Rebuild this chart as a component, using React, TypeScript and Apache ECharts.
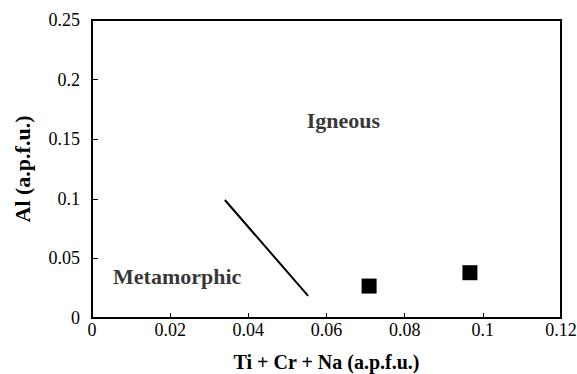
import React, { useEffect, useRef } from "react";
import * as echarts from "echarts";

// Discrimination boundary between the metamorphic and igneous fields
const boundaryX = [0.034, 0.0553];
const boundaryY = [0.099, 0.0185];

// Analysed samples (Ti + Cr + Na vs Al, a.p.f.u.)
const sampleX = [0.0709, 0.0967];
const sampleY = [0.0268, 0.038];

// Field names and where they sit in data space
const fieldNames = ["Igneous", "Metamorphic"];
const fieldX = [0.0643, 0.0218];
const fieldY = [0.166, 0.0344];

const xTicks = [0, 0.02, 0.04, 0.06, 0.08, 0.1, 0.12];
const yTicks = [0, 0.05, 0.1, 0.15, 0.2, 0.25];

const FONT = "Liberation Serif";

export default function App() {
  const ref = useRef<HTMLDivElement>(null);

  useEffect(() => {
    if (!ref.current) return;
    const chart = echarts.init(ref.current, undefined, { renderer: "svg" });
    const tickText = { color: "#000", fontFamily: FONT, fontSize: 18 };
    const nameText = { color: "#000", fontFamily: FONT, fontWeight: "bold" };
    chart.setOption({
      animation: false,
      backgroundColor: "#fff",
      grid: {
        left: 92,
        right: 16,
        top: 20,
        bottom: 56,
        containLabel: false,
        outerBoundsMode: "none",
        show: true,
        borderColor: "#000",
        borderWidth: 2,
      },
      xAxis: {
        type: "value",
        min: xTicks[0],
        max: xTicks[xTicks.length - 1],
        interval: 0.02,
        name: "Ti + Cr + Na (a.p.f.u.)",
        nameLocation: "middle",
        nameGap: 34,
        nameTextStyle: { ...nameText, fontSize: 20 },
        axisLine: { show: true, lineStyle: { color: "#000", width: 2 } },
        axisTick: { show: true, inside: true, length: 5, lineStyle: { color: "#000" } },
        axisLabel: {
          ...tickText,
          margin: 3,
          formatter: (v: number) => String(+v.toFixed(2)),
        },
        splitLine: { show: false },
      },
      yAxis: {
        type: "value",
        min: yTicks[0],
        max: yTicks[yTicks.length - 1],
        interval: 0.05,
        name: "Al (a.p.f.u.)",
        nameLocation: "middle",
        nameGap: 59,
        nameTextStyle: { ...nameText, fontSize: 22 },
        axisLine: { show: true, lineStyle: { color: "#000", width: 2 } },
        axisTick: { show: true, inside: true, length: 6, lineStyle: { color: "#000" } },
        axisLabel: {
          ...tickText,
          margin: 12,
          formatter: (v: number) => String(+v.toFixed(2)),
        },
        splitLine: { show: false },
      },
      series: [
        {
          type: "line",
          data: boundaryX.map((x, i) => [x, boundaryY[i]]),
          symbol: "none",
          lineStyle: { color: "#000", width: 2 },
          silent: true,
        },
        {
          type: "scatter",
          data: sampleX.map((x, i) => [x, sampleY[i]]),
          symbol: "rect",
          symbolSize: 15,
          itemStyle: { color: "#000", opacity: 1 },
        },
        {
          type: "scatter",
          data: fieldX.map((x, i) => ({ value: [x, fieldY[i]], name: fieldNames[i] })),
          symbolSize: 0,
          label: {
            show: true,
            position: "inside",
            formatter: (p: any) => p.name,
            ...nameText,
            fontSize: 22,
          },
          silent: true,
        },
      ],
    });
    return () => chart.dispose();
  }, []);

  return (
    <div
      ref={ref}
      style={{ position: "fixed", left: 0, top: 0, width: 577, height: 374 }}
    />
  );
}
